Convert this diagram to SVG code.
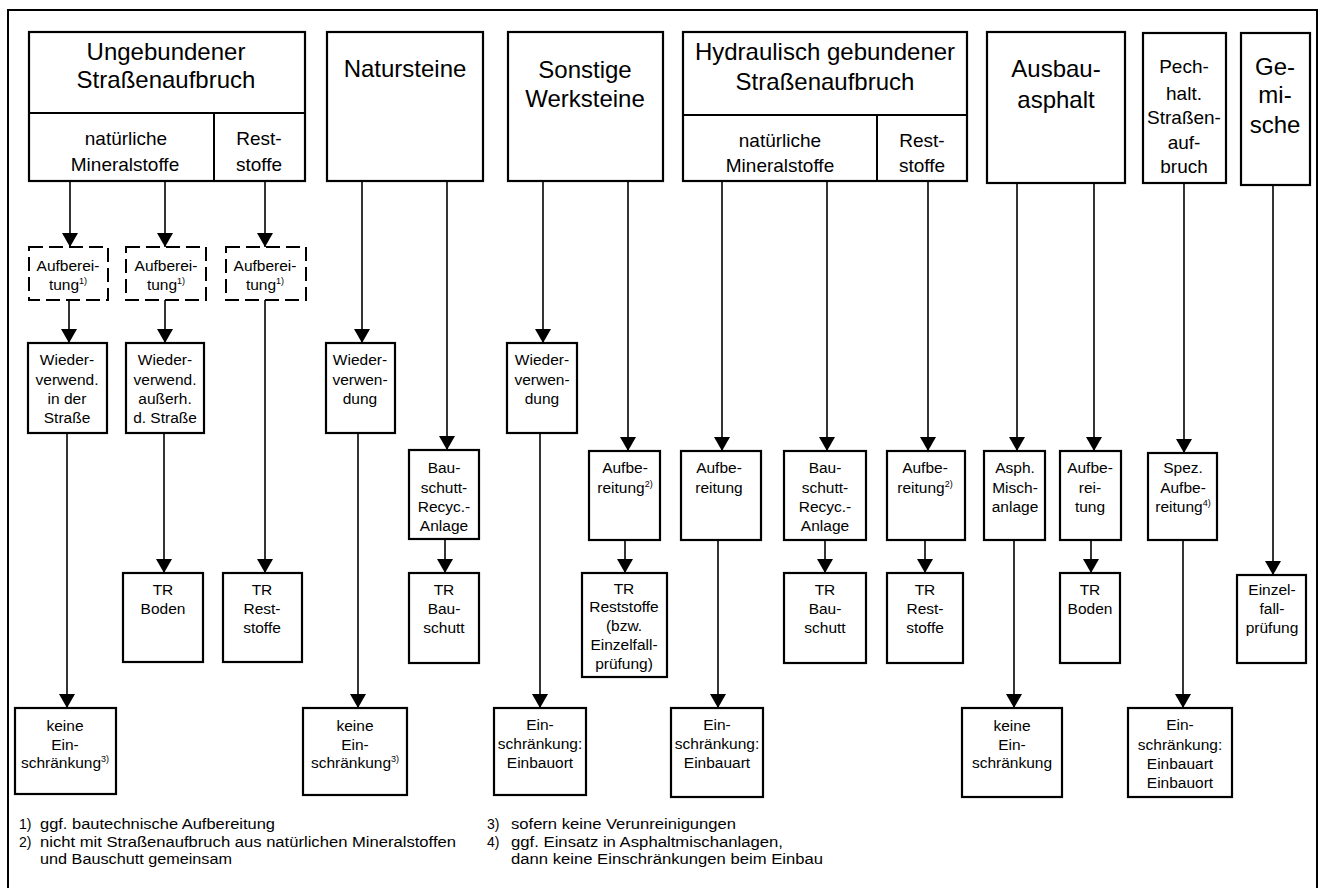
<svg xmlns="http://www.w3.org/2000/svg" width="1323" height="888" viewBox="0 0 1323 888">
<style>
text{font-family:"Liberation Sans",Arial,sans-serif;fill:#000;text-anchor:middle}
.h{font-size:24px}
.m{font-size:19px}
.s{font-size:15.5px}
.f{font-size:14px;text-anchor:start}
.b{fill:#fff;stroke:#000;stroke-width:2.2}
.d{fill:#fff;stroke:#000;stroke-width:2;stroke-dasharray:14 6}
.ln{stroke:#000;stroke-width:2}
.c{stroke:#000;stroke-width:1.6;fill:none;marker-end:url(#ah)}
.sup{font-size:9px}
</style>
<defs>
<marker id="ah" viewBox="0 0 14 16" refX="14" refY="8" markerWidth="14" markerHeight="16" markerUnits="userSpaceOnUse" orient="auto">
<path d="M0,0 L14,8 L0,16 z" fill="#000"/>
</marker>
</defs>
<rect width="1323" height="888" fill="#fff"/>
<rect x="8" y="10" width="1309" height="900" fill="none" stroke="#000" stroke-width="2"/>

<g id="connectors">
<line class="c" x1="70" y1="181" x2="70" y2="247"/>
<line class="c" x1="165" y1="181" x2="165" y2="247"/>
<line class="c" x1="265" y1="181" x2="265" y2="247"/>
<line class="c" x1="69" y1="300" x2="69" y2="343"/>
<line class="c" x1="165" y1="300" x2="165" y2="343"/>
<line class="c" x1="265" y1="300" x2="265" y2="573"/>
<line class="c" x1="67" y1="433" x2="67" y2="708"/>
<line class="c" x1="164" y1="433" x2="164" y2="573"/>
<line class="c" x1="362" y1="181" x2="362" y2="343"/>
<line class="c" x1="358" y1="433" x2="358" y2="708"/>
<line class="c" x1="447" y1="181" x2="447" y2="450"/>
<line class="c" x1="445" y1="539" x2="445" y2="573"/>
<line class="c" x1="543" y1="181" x2="543" y2="343"/>
<line class="c" x1="540" y1="433" x2="540" y2="708"/>
<line class="c" x1="628" y1="181" x2="628" y2="451"/>
<line class="c" x1="625" y1="540" x2="625" y2="573"/>
<line class="c" x1="722" y1="181" x2="722" y2="451"/>
<line class="c" x1="718" y1="540" x2="718" y2="708"/>
<line class="c" x1="827" y1="181" x2="827" y2="451"/>
<line class="c" x1="825" y1="540" x2="825" y2="573"/>
<line class="c" x1="928" y1="181" x2="928" y2="451"/>
<line class="c" x1="925" y1="540" x2="925" y2="573"/>
<line class="c" x1="1017" y1="183" x2="1017" y2="451"/>
<line class="c" x1="1014" y1="540" x2="1014" y2="708"/>
<line class="c" x1="1094" y1="183" x2="1094" y2="451"/>
<line class="c" x1="1091" y1="540" x2="1091" y2="573"/>
<line class="c" x1="1184" y1="183" x2="1184" y2="453"/>
<line class="c" x1="1183" y1="540" x2="1183" y2="708"/>
<line class="c" x1="1273" y1="185" x2="1273" y2="575"/>
</g>

<g id="n-ungebunden">
<rect class="b" x="29" y="32" width="276" height="149"/>
<line class="ln" x1="29" y1="113" x2="305" y2="113"/>
<line class="ln" x1="214" y1="113" x2="214" y2="181"/>
<text class="h" x="166" y="60">Ungebundener</text>
<text class="h" x="166" y="88">Straßenaufbruch</text>
<text class="m" x="126" y="145">natürliche</text>
<text class="m" x="125" y="171">Mineralstoffe</text>
<text class="m" x="259" y="145">Rest-</text>
<text class="m" x="259" y="171">stoffe</text>
</g>
<g id="n-natursteine">
<rect class="b" x="327" y="32" width="156" height="149"/>
<text class="h" x="405" y="77">Natursteine</text>
</g>
<g id="n-werksteine">
<rect class="b" x="508" y="32" width="155" height="149"/>
<text class="h" x="585" y="78">Sonstige</text>
<text class="h" x="585" y="107">Werksteine</text>
</g>
<g id="n-hydraulisch">
<rect class="b" x="683" y="32" width="284" height="149"/>
<line class="ln" x1="683" y1="115" x2="967" y2="115"/>
<line class="ln" x1="877" y1="115" x2="877" y2="181"/>
<text class="h" x="825" y="60">Hydraulisch gebundener</text>
<text class="h" x="825" y="90">Straßenaufbruch</text>
<text class="m" x="780" y="147">natürliche</text>
<text class="m" x="780" y="172">Mineralstoffe</text>
<text class="m" x="922" y="147">Rest-</text>
<text class="m" x="922" y="172">stoffe</text>
</g>
<g id="n-ausbauasphalt">
<rect class="b" x="987" y="32" width="138" height="151"/>
<text class="h" x="1056" y="77">Ausbau-</text>
<text class="h" x="1056" y="108">asphalt</text>
</g>
<g id="n-pech">
<rect class="b" x="1143" y="33" width="83" height="150"/>
<text class="m" x="1184" y="73">Pech-</text>
<text class="m" x="1184" y="100">halt.</text>
<text class="m" x="1184" y="124">Straßen-</text>
<text class="m" x="1184" y="149">auf-</text>
<text class="m" x="1184" y="173">bruch</text>
</g>
<g id="n-gemische">
<rect class="b" x="1241" y="33" width="69" height="152"/>
<text class="h" x="1275" y="75">Ge-</text>
<text class="h" x="1275" y="103">mi-</text>
<text class="h" x="1275" y="133">sche</text>
</g>

<g id="n-aufb1">
<rect class="d" x="29" y="247" width="79" height="53"/>
<text class="s" x="68" y="271">Aufberei-</text>
<text class="s" x="68" y="290">tung<tspan class="sup" dy="-6">1)</tspan></text>
</g>
<g id="n-aufb2">
<rect class="d" x="126" y="247" width="80" height="53"/>
<text class="s" x="166" y="271">Aufberei-</text>
<text class="s" x="166" y="290">tung<tspan class="sup" dy="-6">1)</tspan></text>
</g>
<g id="n-aufb3">
<rect class="d" x="226" y="247" width="80" height="53"/>
<text class="s" x="265" y="271">Aufberei-</text>
<text class="s" x="265" y="290">tung<tspan class="sup" dy="-6">1)</tspan></text>
</g>

<g id="n-wv-strasse">
<rect class="b" x="28" y="343" width="79" height="90"/>
<text class="s" x="67" y="365">Wieder-</text>
<text class="s" x="67" y="385">verwend.</text>
<text class="s" x="67" y="404">in der</text>
<text class="s" x="67" y="423">Straße</text>
</g>
<g id="n-wv-ausserh">
<rect class="b" x="126" y="343" width="78" height="90"/>
<text class="s" x="165" y="365">Wieder-</text>
<text class="s" x="165" y="385">verwend.</text>
<text class="s" x="165" y="404">außerh.</text>
<text class="s" x="165" y="423">d. Straße</text>
</g>
<g id="n-wv-natur">
<rect class="b" x="326" y="343" width="69" height="90"/>
<text class="s" x="360" y="365">Wieder-</text>
<text class="s" x="360" y="385">verwen-</text>
<text class="s" x="360" y="404">dung</text>
</g>
<g id="n-wv-werk">
<rect class="b" x="507" y="343" width="70" height="90"/>
<text class="s" x="542" y="365">Wieder-</text>
<text class="s" x="542" y="385">verwen-</text>
<text class="s" x="542" y="404">dung</text>
</g>

<g id="n-bau-recyc1">
<rect class="b" x="409" y="450" width="70" height="89"/>
<text class="s" x="444" y="473">Bau-</text>
<text class="s" x="444" y="493">schutt-</text>
<text class="s" x="444" y="512">Recyc.-</text>
<text class="s" x="444" y="531">Anlage</text>
</g>
<g id="n-aufb-werk">
<rect class="b" x="589" y="451" width="71" height="89"/>
<text class="s" x="625" y="473">Aufbe-</text>
<text class="s" x="625" y="493">reitung<tspan class="sup" dy="-6">2)</tspan></text>
</g>
<g id="n-aufb-hyd">
<rect class="b" x="681" y="451" width="80" height="89"/>
<text class="s" x="719" y="473">Aufbe-</text>
<text class="s" x="719" y="493">reitung</text>
</g>
<g id="n-bau-recyc2">
<rect class="b" x="784" y="451" width="82" height="89"/>
<text class="s" x="825" y="473">Bau-</text>
<text class="s" x="825" y="493">schutt-</text>
<text class="s" x="825" y="512">Recyc.-</text>
<text class="s" x="825" y="531">Anlage</text>
</g>
<g id="n-aufb-rest">
<rect class="b" x="887" y="451" width="78" height="89"/>
<text class="s" x="925" y="473">Aufbe-</text>
<text class="s" x="925" y="493">reitung<tspan class="sup" dy="-6">2)</tspan></text>
</g>
<g id="n-asph-misch">
<rect class="b" x="984" y="451" width="61" height="89"/>
<text class="s" x="1015" y="473">Asph.</text>
<text class="s" x="1015" y="493">Misch-</text>
<text class="s" x="1015" y="512">anlage</text>
</g>
<g id="n-aufb-asph">
<rect class="b" x="1060" y="451" width="61" height="89"/>
<text class="s" x="1090" y="473">Aufbe-</text>
<text class="s" x="1090" y="493">rei-</text>
<text class="s" x="1090" y="512">tung</text>
</g>
<g id="n-spez-aufb">
<rect class="b" x="1148" y="453" width="69" height="87"/>
<text class="s" x="1183" y="473">Spez.</text>
<text class="s" x="1183" y="493">Aufbe-</text>
<text class="s" x="1183" y="512">reitung<tspan class="sup" dy="-6">4)</tspan></text>
</g>

<g id="n-tr-boden1">
<rect class="b" x="123" y="573" width="80" height="89"/>
<text class="s" x="163" y="595">TR</text>
<text class="s" x="163" y="614">Boden</text>
</g>
<g id="n-tr-rest1">
<rect class="b" x="223" y="573" width="79" height="89"/>
<text class="s" x="262" y="595">TR</text>
<text class="s" x="262" y="614">Rest-</text>
<text class="s" x="262" y="633">stoffe</text>
</g>
<g id="n-tr-bau1">
<rect class="b" x="409" y="573" width="70" height="90"/>
<text class="s" x="444" y="595">TR</text>
<text class="s" x="444" y="614">Bau-</text>
<text class="s" x="444" y="633">schutt</text>
</g>
<g id="n-tr-rest-bzw">
<rect class="b" x="582" y="573" width="85" height="104"/>
<text class="s" x="624" y="594">TR</text>
<text class="s" x="624" y="612">Reststoffe</text>
<text class="s" x="624" y="631">(bzw.</text>
<text class="s" x="624" y="650">Einzelfall-</text>
<text class="s" x="624" y="669">prüfung)</text>
</g>
<g id="n-tr-bau2">
<rect class="b" x="784" y="573" width="82" height="90"/>
<text class="s" x="825" y="595">TR</text>
<text class="s" x="825" y="614">Bau-</text>
<text class="s" x="825" y="633">schutt</text>
</g>
<g id="n-tr-rest2">
<rect class="b" x="887" y="573" width="76" height="90"/>
<text class="s" x="925" y="595">TR</text>
<text class="s" x="925" y="614">Rest-</text>
<text class="s" x="925" y="633">stoffe</text>
</g>
<g id="n-tr-boden2">
<rect class="b" x="1060" y="573" width="60" height="90"/>
<text class="s" x="1090" y="595">TR</text>
<text class="s" x="1090" y="614">Boden</text>
</g>
<g id="n-einzelfall">
<rect class="b" x="1237" y="575" width="69" height="88"/>
<text class="s" x="1272" y="595">Einzel-</text>
<text class="s" x="1272" y="614">fall-</text>
<text class="s" x="1272" y="633">prüfung</text>
</g>

<g id="n-keine1">
<rect class="b" x="15" y="708" width="101" height="86"/>
<text class="s" x="65" y="731">keine</text>
<text class="s" x="65" y="750">Ein-</text>
<text class="s" x="65" y="768">schränkung<tspan class="sup" dy="-6">3)</tspan></text>
</g>
<g id="n-keine2">
<rect class="b" x="303" y="708" width="104" height="87"/>
<text class="s" x="355" y="731">keine</text>
<text class="s" x="355" y="750">Ein-</text>
<text class="s" x="355" y="768">schränkung<tspan class="sup" dy="-6">3)</tspan></text>
</g>
<g id="n-einbauort">
<rect class="b" x="494" y="708" width="92" height="87"/>
<text class="s" x="540" y="730">Ein-</text>
<text class="s" x="540" y="749">schränkung:</text>
<text class="s" x="540" y="768">Einbauort</text>
</g>
<g id="n-einbauart">
<rect class="b" x="671" y="708" width="92" height="89"/>
<text class="s" x="717" y="730">Ein-</text>
<text class="s" x="717" y="749">schränkung:</text>
<text class="s" x="717" y="768">Einbauart</text>
</g>
<g id="n-keine3">
<rect class="b" x="962" y="708" width="100" height="89"/>
<text class="s" x="1012" y="731">keine</text>
<text class="s" x="1012" y="750">Ein-</text>
<text class="s" x="1012" y="768">schränkung</text>
</g>
<g id="n-einbau-beide">
<rect class="b" x="1128" y="708" width="104" height="89"/>
<text class="s" x="1180" y="730">Ein-</text>
<text class="s" x="1180" y="750">schränkung:</text>
<text class="s" x="1180" y="769">Einbauart</text>
<text class="s" x="1180" y="788">Einbauort</text>
</g>

<g id="footnotes">
<text class="f" x="19" y="829">1)</text>
<text class="f" x="40" y="829" textLength="235" lengthAdjust="spacingAndGlyphs">ggf. bautechnische Aufbereitung</text>
<text class="f" x="19" y="847">2)</text>
<text class="f" x="40" y="847" textLength="416" lengthAdjust="spacingAndGlyphs">nicht mit Straßenaufbruch aus natürlichen Mineralstoffen</text>
<text class="f" x="40" y="864" textLength="192" lengthAdjust="spacingAndGlyphs">und Bauschutt gemeinsam</text>
<text class="f" x="487" y="829">3)</text>
<text class="f" x="511" y="829" textLength="225" lengthAdjust="spacingAndGlyphs">sofern keine Verunreinigungen</text>
<text class="f" x="487" y="847">4)</text>
<text class="f" x="511" y="847" textLength="272" lengthAdjust="spacingAndGlyphs">ggf. Einsatz in Asphaltmischanlagen,</text>
<text class="f" x="511" y="864" textLength="312" lengthAdjust="spacingAndGlyphs">dann keine Einschränkungen beim Einbau</text>
</g>
</svg>
